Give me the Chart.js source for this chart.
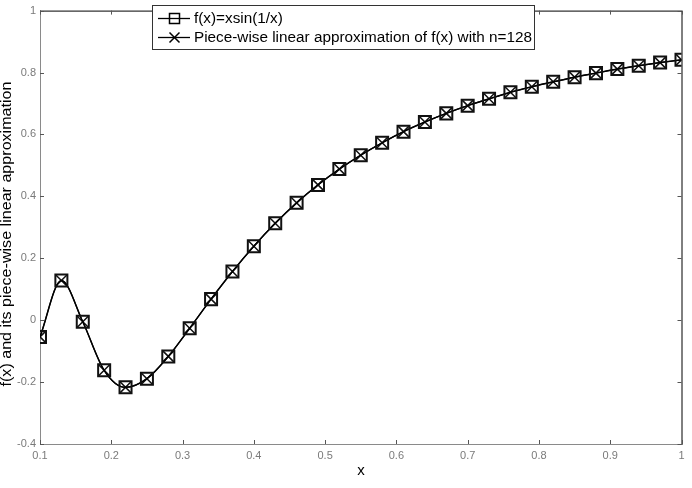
<!DOCTYPE html>
<html lang="en">
<head>
<meta charset="UTF-8">
<title>f(x)=xsin(1/x) and its piece-wise linear approximation</title>
<script src="https://cdn.jsdelivr.net/npm/chart.js"></script>
<style>
    body { margin: 0; background: #fff; }
    .chart-container { position: relative; width: 692px; height: 488px; }
</style>
</head>
<body>
<div class="chart-container">
    <canvas id="approxChart" width="692" height="488"></canvas>
</div>
<script>
// values
const xValues = [0.10, 0.13, 0.16, 0.19, 0.22, 0.25, 0.28, 0.31, 0.34, 0.37, 0.40,
                 0.43, 0.46, 0.49, 0.52, 0.55, 0.58, 0.61, 0.64, 0.67, 0.70,
                 0.73, 0.76, 0.79, 0.82, 0.85, 0.88, 0.91, 0.94, 0.97, 1.00];
const fValues = [-0.054, 0.128, -0.005, -0.162, -0.217, -0.189, -0.117, -0.026, 0.068, 0.157, 0.239,
                 0.313, 0.379, 0.437, 0.488, 0.533, 0.573, 0.609, 0.640, 0.668, 0.693,
                 0.715, 0.736, 0.754, 0.770, 0.785, 0.798, 0.811, 0.822, 0.832, 0.841];
const approxValues = [-0.054, 0.128, -0.005, -0.162, -0.217, -0.189, -0.117, -0.026, 0.068, 0.157, 0.239,
                      0.313, 0.379, 0.437, 0.488, 0.533, 0.573, 0.609, 0.640, 0.668, 0.693,
                      0.715, 0.736, 0.754, 0.770, 0.785, 0.798, 0.811, 0.822, 0.832, 0.841];
const xTicks = [0.1, 0.2, 0.3, 0.4, 0.5, 0.6, 0.7, 0.8, 0.9, 1];
const xTickLabels = ['0.1', '0.2', '0.3', '0.4', '0.5', '0.6', '0.7', '0.8', '0.9', '1'];
const yTicks = [-0.4, -0.2, 0, 0.2, 0.4, 0.6, 0.8, 1];
const yTickLabels = ['-0.4', '-0.2', '0', '0.2', '0.4', '0.6', '0.8', '1'];
const seriesLabels = ['f(x)=xsin(1/x)', 'Piece-wise linear approximation of f(x) with n=128'];
const xTitle = 'x';
const yTitle = 'f(x) and its piece-wise linear approximation';

const FONT = "'Liberation Sans', Arial, sans-serif";

function toPoints(ys) {
    return xValues.map((x, i) => ({ x: x, y: ys[i] }));
}

// draw text stretched horizontally to a given width
function stretchText(ctx, text, x, y, width) {
    const w = ctx.measureText(text).width;
    ctx.save();
    ctx.translate(x, y);
    ctx.scale(width / w, 1);
    ctx.fillText(text, 0, 0);
    ctx.restore();
}

const framePlugin = {
    id: 'frame',
    beforeDatasetsDraw(chart) {
        const { ctx, chartArea: a, scales } = chart;
        ctx.save();
        ctx.lineWidth = 1;
        // left + bottom axes grey, top + right black
        ctx.strokeStyle = '#8a8a8a';
        ctx.beginPath();
        ctx.moveTo(a.left + 0.5, a.top);
        ctx.lineTo(a.left + 0.5, a.bottom + 0.5);
        ctx.lineTo(a.right, a.bottom + 0.5);
        ctx.stroke();
        ctx.strokeStyle = '#000';
        ctx.beginPath();
        ctx.moveTo(a.left, a.top + 0.5);
        ctx.lineTo(a.right + 0.5, a.top + 0.5);
        ctx.lineTo(a.right + 0.5, a.bottom + 1);
        ctx.stroke();
        // inward ticks
        ctx.strokeStyle = '#555';
        ctx.beginPath();
        xTicks.forEach(v => {
            const px = Math.round(scales.x.getPixelForValue(v)) + 0.5;
            ctx.moveTo(px, a.bottom); ctx.lineTo(px, a.bottom - 4);
            ctx.moveTo(px, a.top); ctx.lineTo(px, a.top + 4);
        });
        yTicks.forEach(v => {
            const py = Math.round(scales.y.getPixelForValue(v)) + 0.5;
            ctx.moveTo(a.left, py); ctx.lineTo(a.left + 4, py);
            ctx.moveTo(a.right, py); ctx.lineTo(a.right - 4, py);
        });
        ctx.stroke();
        ctx.restore();
    },
    afterDraw(chart) {
        const { ctx } = chart;
        ctx.save();
        // legend box
        const bx = 152.5, by = 5.5, bw = 382, bh = 44;
        ctx.fillStyle = '#fff';
        ctx.fillRect(bx, by, bw, bh);
        ctx.strokeStyle = '#333';
        ctx.lineWidth = 1;
        ctx.strokeRect(bx, by, bw, bh);

        const rows = [18, 37];
        ctx.strokeStyle = '#000';
        ctx.lineWidth = 1.3;
        rows.forEach(ry => {
            ctx.beginPath();
            ctx.moveTo(158, ry + 0.5);
            ctx.lineTo(190, ry + 0.5);
            ctx.stroke();
        });
        ctx.lineWidth = 1.5;
        ctx.strokeRect(169.5, rows[0] - 4.5, 10, 10);
        ctx.beginPath();
        ctx.moveTo(169.5, rows[1] - 4.5); ctx.lineTo(179.5, rows[1] + 5.5);
        ctx.moveTo(179.5, rows[1] - 4.5); ctx.lineTo(169.5, rows[1] + 5.5);
        ctx.stroke();

        ctx.fillStyle = '#000';
        ctx.font = '14px ' + FONT;
        ctx.textBaseline = 'middle';
        ctx.textAlign = 'left';
        const sx = 338 / ctx.measureText(seriesLabels[1]).width;
        stretchText(ctx, seriesLabels[0], 194, rows[0] + 1, ctx.measureText(seriesLabels[0]).width * sx);
        stretchText(ctx, seriesLabels[1], 194, rows[1] + 1, 338);

        // axis titles
        ctx.font = '14px ' + FONT;
        ctx.textAlign = 'center';
        ctx.textBaseline = 'alphabetic';
        ctx.save();
        ctx.translate(11, 234);
        ctx.rotate(-Math.PI / 2);
        const w = ctx.measureText(yTitle).width;
        ctx.scale(305 / w, 1);
        ctx.fillText(yTitle, 0, 0);
        ctx.restore();

        ctx.font = '15px ' + FONT;
        ctx.textBaseline = 'middle';
        ctx.fillText(xTitle, 361, 471);
        ctx.restore();
    }
};

const ctx = document.getElementById('approxChart').getContext('2d');
new Chart(ctx, {
    type: 'line',
    data: {
        datasets: [{
            label: seriesLabels[0],
            data: toPoints(fValues),
            borderColor: '#000',
            borderWidth: 1.5,
            cubicInterpolationMode: 'monotone',
            pointStyle: 'rect',
            pointRadius: 8.5,
            pointBorderWidth: 2,
            pointBorderColor: '#111',
            pointBackgroundColor: 'rgba(255,255,255,0)',
            fill: false
        }, {
            label: seriesLabels[1],
            data: toPoints(approxValues),
            borderColor: '#000',
            borderWidth: 1.2,
            cubicInterpolationMode: 'monotone',
            pointStyle: 'crossRot',
            pointRadius: 8.5,
            pointBorderWidth: 1.5,
            pointBorderColor: '#111',
            fill: false
        }]
    },
    options: {
        responsive: false,
        animation: false,
        layout: { padding: { left: 0, right: 7, top: 5, bottom: 0 } },
        scales: {
            x: {
                type: 'linear',
                min: 0.1,
                max: 1,
                grid: { display: false, drawTicks: false },
                border: { display: false },
                afterBuildTicks: s => { s.ticks = xTicks.map(v => ({ value: v })); },
                afterFit: s => { s.height = 44; },
                ticks: {
                    padding: 5,
                    color: '#7a7a7a',
                    font: { family: FONT, size: 11 },
                    maxRotation: 0,
                    autoSkip: false,
                    callback: (v, i) => xTickLabels[i]
                }
            },
            y: {
                type: 'linear',
                min: -0.4,
                max: 1,
                grid: { display: false, drawTicks: false },
                border: { display: false },
                afterBuildTicks: s => { s.ticks = yTicks.map(v => ({ value: v })); },
                afterFit: s => { s.width = 40; },
                ticks: {
                    padding: 4,
                    color: '#7a7a7a',
                    font: { family: FONT, size: 11 },
                    autoSkip: false,
                    callback: (v, i) => yTickLabels[i]
                }
            }
        },
        plugins: {
            legend: { display: false },
            tooltip: { enabled: false }
        }
    },
    plugins: [framePlugin]
});
</script>
</body>
</html>
